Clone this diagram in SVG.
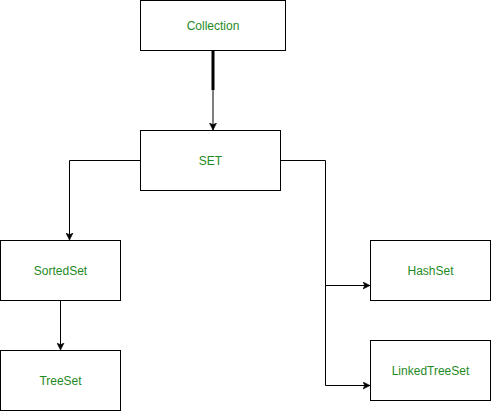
<svg xmlns="http://www.w3.org/2000/svg" width="491" height="411" viewBox="0 0 491 411">
<style>
.box{fill:#fff;stroke:#000;stroke-width:1}
.lbl{font-family:"Liberation Sans",Arial,sans-serif;font-size:12px;fill:#1f8a1f;text-anchor:middle;dominant-baseline:central}
.edge{fill:none;stroke:#000;stroke-width:1}
</style>
<defs>
<marker id="arr" markerWidth="8" markerHeight="8" refX="7" refY="4" orient="auto" markerUnits="userSpaceOnUse">
<path d="M0,0.5 L7,4 L0,7.5 L1.8,4 Z" fill="#000" stroke="#000" stroke-width="0.6"/>
</marker>
</defs>
<rect width="491" height="411" fill="#fff"/>
<g id="connectors">
<line x1="213" y1="50.5" x2="213" y2="90" stroke="#000" stroke-width="3"/>
<path class="edge" d="M213,90 V130" marker-end="url(#arr)"/>
<path class="edge" d="M140,160.5 H69.5 V240" marker-end="url(#arr)"/>
<path class="edge" d="M60.5,300.5 V350" marker-end="url(#arr)"/>
<path class="edge" d="M280,160.5 H325.5 V385.5 H370" marker-end="url(#arr)"/>
<path class="edge" d="M325.5,285.5 H370" marker-end="url(#arr)"/>
</g>
<g id="collection"><rect class="box" x="140.5" y="0.5" width="145" height="50"/><text class="lbl" x="213" y="25.5">Collection</text></g>
<g id="set"><rect class="box" x="140.5" y="130.5" width="140" height="60"/><text class="lbl" x="210.5" y="160.5">SET</text></g>
<g id="sortedset"><rect class="box" x="0.5" y="240.5" width="120" height="60"/><text class="lbl" x="60.5" y="270.5">SortedSet</text></g>
<g id="treeset"><rect class="box" x="0.5" y="350.5" width="120" height="60"/><text class="lbl" x="60.5" y="380.5">TreeSet</text></g>
<g id="hashset"><rect class="box" x="370.5" y="240.5" width="120" height="60"/><text class="lbl" x="430.5" y="270.5">HashSet</text></g>
<g id="linkedtreeset"><rect class="box" x="370.5" y="340.5" width="120" height="60"/><text class="lbl" x="430.5" y="370.5">LinkedTreeSet</text></g>
</svg>
